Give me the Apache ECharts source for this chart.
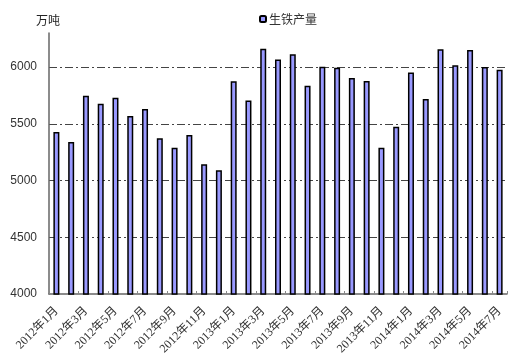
<!DOCTYPE html>
<html><head><meta charset="utf-8">
<script src="https://cdn.jsdelivr.net/npm/echarts@6/dist/echarts.min.js"></script>
<style>html,body{margin:0;padding:0;background:#fff}#c{width:528px;height:363px}</style>
</head><body><div id="c"></div>
<script>
const categories = ['2012年1月','2012年2月','2012年3月','2012年4月','2012年5月','2012年6月','2012年7月','2012年8月','2012年9月','2012年10月','2012年11月','2012年12月',
'2013年1月','2013年2月','2013年3月','2013年4月','2013年5月','2013年6月','2013年7月','2013年8月','2013年9月','2013年10月','2013年11月','2013年12月',
'2014年1月','2014年2月','2014年3月','2014年4月','2014年5月','2014年6月','2014年7月'];
const pigIron = [5427,5340,5747,5677,5730,5568,5630,5372,5289,5401,5143,5090,
5874,5706,6161,6067,6112,5835,6003,5994,5903,5877,5289,5474,
5953,5718,6156,6015,6150,6000,5977];
const seriesName = '生铁产量';
const unitLabel = '万吨';

const chart = echarts.init(document.getElementById('c'), null, {renderer:'canvas'});
chart.setOption({
  animation:false,
  backgroundColor:'#fff',
  title:{text:unitLabel,left:31,top:9,textStyle:{fontSize:12,fontWeight:'normal',color:'#222',fontFamily:'"Noto Sans CJK SC"'}},
  legend:{data:[seriesName],left:254,top:8,itemWidth:6,itemHeight:6,itemGap:3,
    textStyle:{fontSize:12,color:'#333',fontFamily:'"Noto Sans CJK SC"',padding:[0,0,0,-2]}},
  grid:{left:49,right:21,top:33,bottom:69},
  xAxis:{type:'category',data:categories,
    axisLine:{lineStyle:{color:'#666',width:1.5}},
    axisTick:{show:true,interval:1,inside:true,length:3,lineStyle:{color:'#888'}},
    axisLabel:{interval:1,rotate:45,fontSize:12,color:'#333',margin:15,fontFamily:'"Liberation Serif","Noto Sans CJK SC"'}},
  yAxis:{type:'value',min:4000,max:6300,interval:500,
    axisLine:{show:true,lineStyle:{color:'#666',width:1.5}},
    axisTick:{show:false},
    axisLabel:{fontSize:12,color:'#333',margin:12,fontFamily:'"Liberation Sans"',showMaxLabel:false,
      formatter:v=> (v%500===0? String(v):'')},
    splitLine:{show:true,lineStyle:{color:['transparent','#444','#444','#444','#444','transparent'],width:1,type:[8,3,2,3]}}},
  series:[{name:seriesName,type:'bar',data:pigIron,barWidth:6,
    itemStyle:{color:'#9999FF',borderColor:'#000',borderWidth:1.5}}]
});
</script></body></html>
